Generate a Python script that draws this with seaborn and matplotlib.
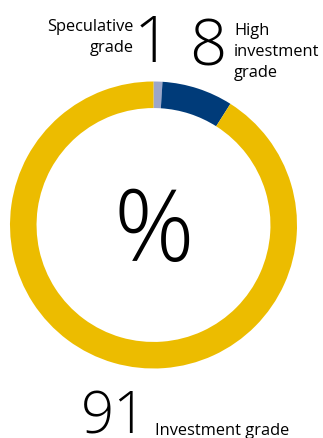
import matplotlib
matplotlib.use("Agg")
import matplotlib.pyplot as plt
import seaborn as sns

categories = ["Speculative grade", "High investment grade", "Investment grade"]
values = [1, 8, 91]
value_labels = ["1", "8", "91"]
center_label = "%"

sns.set_theme(style="white")
plt.rcParams["font.family"] = ["Open Sans", "DejaVu Sans"]

colors = ["#9ca6c9", "#003b79", "#ecbc00"]

W, H = 323, 439
fig = plt.figure(figsize=(W / 100, H / 100), dpi=100)
fig.patch.set_facecolor("white")

cx, cy, R = 153.5, 226, 143.5
ax = fig.add_axes([(cx - R) / W, (H - cy - R) / H, 2 * R / W, 2 * R / H])
ax.pie(values, colors=colors, startangle=90, counterclock=False,
       radius=1, wedgeprops=dict(width=0.185, linewidth=0))
ax.set_xlim(-1, 1)
ax.set_ylim(-1, 1)
ax.set_aspect("auto")
ax.axis("off")


def ft(x, y, s, **kw):
    fig.text(x / W, 1 - y / H, s, color="black", **kw)


ft(cx, 261, center_label, fontsize=72, ha="center", va="baseline", fontweight="light")
ft(152, 62, value_labels[0], fontsize=47, ha="center", va="baseline", fontweight="light")
ft(208, 66, value_labels[1], fontsize=47, ha="center", va="baseline", fontweight="light")
ft(114, 434, value_labels[2], fontsize=42, ha="center", va="baseline", fontweight="light")

lab = dict(fontsize=11.8, va="baseline")
ft(134, 31, "Speculative", ha="right", **lab)
ft(134, 52, "grade", ha="right", **lab)
ft(234, 35, "High", ha="left", **lab)
ft(234, 56, "investment", ha="left", **lab)
ft(234, 77, "grade", ha="left", **lab)
ft(155, 435, "Investment grade", ha="left", **lab)

fig.savefig("out.png", dpi=100, facecolor="white")
